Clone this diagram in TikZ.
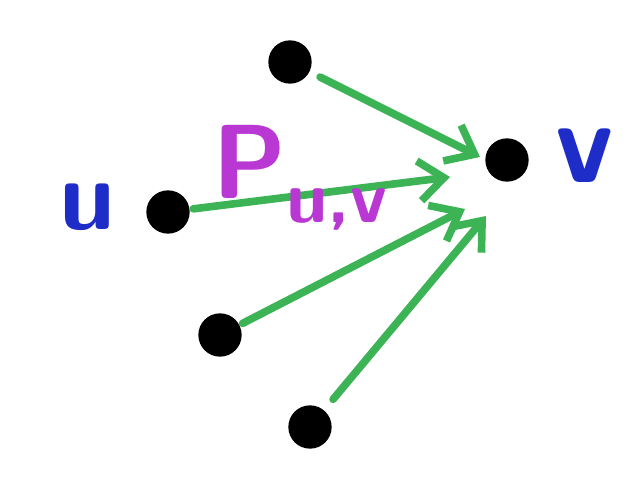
\documentclass[tikz,border=0pt]{standalone}
\usepackage{xcolor}
\usetikzlibrary{positioning, arrows.meta}

\definecolor{penGreen}{RGB}{60,180,85}
\definecolor{penBlue}{RGB}{30,45,200}
\definecolor{penViolet}{RGB}{185,55,210}

\begin{document}
\begin{tikzpicture}[
        x=0.03cm, y=-0.03cm,
        vertex/.style={
            circle, fill=black, inner sep=0pt, minimum size=1.3cm
        },
        edge/.style={
            draw=penGreen, line width=6.5pt, line cap=round,
            -{Straight Barb[length=0.75cm, width=1.2cm, line width=6.5pt]}
        },
        tag/.style={font=\sffamily, inner sep=0pt}
    ]
        \useasboundingbox (0,0) rectangle (630,481);
        % vertices
        \node[vertex] (t) at (290,62) {};
        \node[vertex] (v) at (507,160) {};
        \node[vertex] (u) at (168,212) {};
        \node[vertex] (a) at (220,335) {};
        \node[vertex] (b) at (310,427) {};
        % arrow ends short of v
        \coordinate (et) at (480,157);
        \coordinate (eu) at (450,177);
        \coordinate (ea) at (465,209);
        \coordinate (eb) at (486,216);
        \draw[edge, shorten <=10pt] (t) -- (et);
        \draw[edge, shorten <=3pt] (u) -- (eu);
        \draw[edge, shorten <=3pt] (a) -- (ea);
        \draw[edge, shorten <=12pt] (b) -- (eb);
        % labels
        \node[tag, text=penBlue, font=\sffamily\bfseries\fontsize{85}{85}\selectfont,
            left=0.9cm of u, yshift=4pt] (ul) {u};
        \node[tag, text=penBlue, font=\sffamily\bfseries\fontsize{100}{100}\selectfont,
            right=0.8cm of v, yshift=4pt] (vl) {v};
        \node[tag, text=penViolet, font=\sffamily\bfseries\fontsize{90}{90}\selectfont]
            (pl) at (300,178) {P\textsubscript{u,v}};
    \end{tikzpicture}
\end{document}
